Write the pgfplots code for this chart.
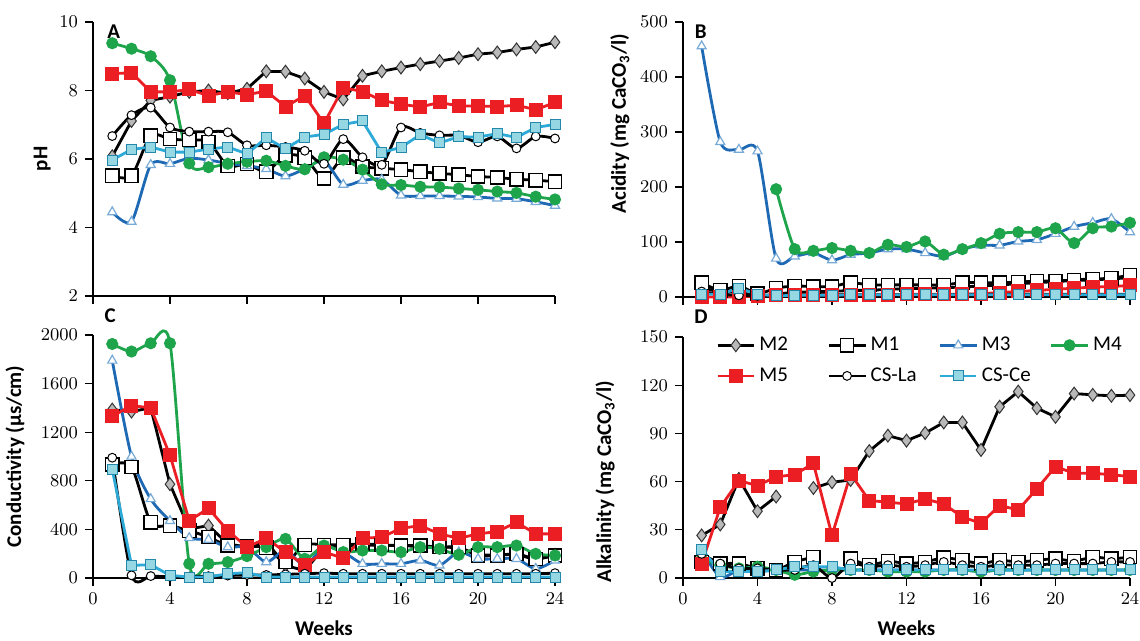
\documentclass[border=0pt]{standalone}
\usepackage{fontspec}
\setsansfont{Carlito}
\usepackage{pgfplots}
\usepackage{pgfplotstable}
\pgfplotsset{compat=1.18}

\definecolor{mthree}{RGB}{30,105,180}
\definecolor{mthreemk}{RGB}{120,170,215}
\definecolor{mfour}{RGB}{30,165,75}
\definecolor{mfive}{RGB}{235,30,35}
\definecolor{csce}{RGB}{45,170,215}
\definecolor{cscemk}{RGB}{150,215,228}

% pH
\pgfplotstableread{
w  M2    M1    M3    M4    M5    CSLa  CSCe
1  6.08  5.51  4.45  9.38  8.49  6.67  5.97
2  7.11  5.51  4.17  9.22  8.52  7.28  6.28
3  7.71  6.68  5.83  9.00  7.96  7.50  6.35
4  7.82  6.58  5.86  8.30  7.96  6.92  6.20
5  7.96  6.55  6.02  5.87  8.03  6.80  6.20
6  8.00  6.50  5.97  5.76  7.85  6.80  6.29
7  7.92  5.80  5.87  5.86  7.96  6.78  6.35
8  8.05  5.85  5.80  5.92  7.88  6.40  6.15
9  8.56  5.63  5.71  5.95  7.98  6.40  6.62
10 8.55  6.10  5.50  5.80  7.53  6.35  6.30
11 8.35  6.04  5.71  5.70  7.85  6.24  6.64
12 7.96  5.43  5.95  6.05  7.04  5.86  6.72
13 7.74  6.04  5.25  5.98  8.08  6.58  7.01
14 8.43  5.78  5.37  5.69  7.97  6.05  7.11
15 8.56  5.73  5.40  5.26  7.71  5.83  6.19
16 8.67  5.69  4.94  5.24  7.60  6.92  6.34
17 8.77  5.63  4.92  5.19  7.52  6.76  6.71
18 8.86  5.58  4.92  5.18  7.65  6.69  6.47
19 8.95  5.54  4.91  5.14  7.55  6.69  6.65
20 9.06  5.49  4.89  5.10  7.55  6.49  6.64
21 9.11  5.46  4.85  5.05  7.53  6.66  6.74
22 9.20  5.41  4.84  5.01  7.57  6.31  6.63
23 9.27  5.38  4.75  4.90  7.44  6.66  6.92
24 9.41  5.34  4.64  4.82  7.65  6.60  7.01
}\dataA

% acidity
\pgfplotstableread{
w  M2  M1  M3   M4   M5  CSLa CSCe
1  18  26  456  nan  0   10   5
2  8   12  282  nan  0   5    5
3  10  20  268  nan  0   3    16
4  0   6   265  nan  2   2    5
5  6   16  70   196  3   3    2
6  8   20  74   87   3   3    3
7  10  19  80   84   4   4    3
8  10  19  67   89   4   4    3
9  12  26  77   84   4   4    4
10 12  22  80   80   4   4    4
11 14  22  87   95   4   4    4
12 15  22  87   91   5   4    4
13 16  22  80   101  5   4    4
14 17  22  74   77   5   4    4
15 18  26  87   87   5   5    4
16 20  26  94   98   6   5    4
17 22  26  94   115  8   5    4
18 24  27  101  118  10  5    4
19 26  29  104  118  12  5    4
20 28  29  115  125  14  5    4
21 30  31  128  98   16  5    4
22 31  33  135  125  18  5    4
23 33  34  142  128  19  5    4
24 35  40  118  135  21  5    4
}\dataB

% conductivity
\pgfplotstableread{
w  M2    M1   M3    M4    M5    CSLa CSCe
1  1386  935  1790  1926  1331  990  895
2  1370  915  1000  1864  1419  22   104
3  1400  458  650   1932  1400  16   109
4  772   431  470   1932  1010  10   22
5  404   390  330   117   472   12   8
6  431   336  316   117   573   15   8
7  281   267  254   131   390   20   35
8  254   260  254   180   254   25   44
9  300   250  131   254   327   25   8
10 104   131  226   322   213   30   8
11 60    273  104   158   104   35   8
12 250   273  254   267   213   40   8
13 260   273  213   213   164   35   8
14 270   281  117   226   327   35   8
15 270   273  117   226   336   35   8
16 265   267  117   213   409   35   8
17 260   267  145   254   431   35   8
18 255   254  104   240   363   35   8
19 250   254  213   191   327   35   8
20 190   186  158   254   363   35   8
21 190   186  158   254   382   35   8
22 195   199  158   267   458   35   8
23 150   158  76    199   363   35   8
24 190   186  145   186   363   40   8
}\dataC

% alkalinity
\pgfplotstableread{
w  M2     M1    M3   M4  M5    CSLa CSCe
1  26.5   10    17   12  8.9   15   18
2  33.3   9     0.6  8   44.0  9    4
3  61.7   9     5    6   60.6  6    4
4  41.6   6     4    7   57.5  6    4
5  50.7   5     5    5   63.0  5    5
6  nan    10    5    2   64.3  5    7
7  56.0   13    5    4   71.4  8    7
8  59.6   nan   5    5   26.5  0    7
9  61.0   12    5    5   64.8  9    5
10 79.0   8     5    5   48.2  7    5
11 88.6   10.5  5    4   47.2  8    5
12 85.5   9     5    4   46.1  7    5
13 90.2   10    5    4   49.2  8    5
14 96.8   12.6  5    5   46.1  10   5
15 96.8   11    5    5   37.9  8    5
16 79.7   9     4    4   34.1  7    5
17 106.6  11    5    5   45.1  8    5
18 116.0  10    5    5   42.4  8    5
19 105.7  11    5    5   55.5  8    5
20 100.3  12    5    5   69.3  9    5
21 114.8  10.5  5    5   65.2  9    5
22 114.0  13    5    5   65.2  9    5
23 113.4  12    5    5   64.3  10   5
24 113.8  13    5    5   63.1  10   5
}\dataD

\pgfplotsset{
  panel/.style={
    scale only axis,
    xmin=0, xmax=24, xtick={0,4,...,24},
    axis x line*=bottom, axis y line*=left,
    tick align=outside, major tick length=4pt,
    tick style={black, line width=0.6pt},
    axis line style={black, line width=0.6pt},
    tick label style={font=\fontsize{9}{10}\selectfont},
    label style={font=\sffamily\bfseries\fontsize{10.5}{12}\selectfont},
    /pgf/number format/1000 sep={},
    clip=false, unbounded coords=jump,
  },
  sM2/.style={black, line width=1.4pt, mark=diamond*, mark size=3.2pt,
    mark options={solid, fill=gray!55, draw=black!80, line width=0.5pt}},
  sM1/.style={black, line width=1.4pt, smooth, tension=0.45, mark=square*, mark size=3.3pt,
    mark options={solid, fill=white, draw=black, line width=0.7pt}},
  sM3/.style={mthree, line width=1.4pt, smooth, tension=0.45, mark=triangle*, mark size=2.6pt,
    mark options={solid, fill=white, draw=mthreemk, line width=0.6pt}},
  sM4/.style={mfour, line width=1.4pt, smooth, tension=0.45, mark=*, mark size=2.3pt,
    mark options={solid, fill=mfour, draw=mfour}},
  sM5/.style={mfive, line width=1.4pt, mark=square*, mark size=2.8pt,
    mark options={solid, fill=mfive, draw=mfive}},
  sLa/.style={black, line width=1.4pt, smooth, tension=0.45, mark=*, mark size=2.2pt,
    mark options={solid, fill=white, draw=black, line width=0.5pt}},
  sCe/.style={csce, line width=1.4pt, mark=square*, mark size=2.5pt,
    mark options={solid, fill=cscemk, draw=csce!80!black, line width=0.5pt}},
}
\tikzset{panelletter/.style={font=\sffamily\bfseries\fontsize{10.5}{12}\selectfont}}

\newcommand{\allseries}[1]{%
  \addplot[sM2] table[x=w,y=M2] {#1};
  \addplot[sM1] table[x=w,y=M1] {#1};
  \addplot[sM3] table[x=w,y=M3] {#1};
  \addplot[sM4] table[x=w,y=M4] {#1};
  \addplot[sM5] table[x=w,y=M5] {#1};
  \addplot[sLa] table[x=w,y=CSLa] {#1};
  \addplot[sCe] table[x=w,y=CSCe] {#1};
}

\begin{document}
\begin{tikzpicture}
\useasboundingbox (0,0) rectangle (570pt,-320.5pt);

% A: pH
\begin{axis}[panel, at={(46.5pt,-148pt)}, anchor=south west,
  width=231pt, height=137pt,
  ymin=2, ymax=10, ytick={2,4,...,10}, xticklabels={},
  ylabel={pH}, ylabel style={at={(axis description cs:-0.11,0.5)}, anchor=center}]
\allseries{\dataA}
\node[panelletter] at (axis description cs:0.045,0.965) {A};
\end{axis}

% B: acidity
\begin{axis}[panel, at={(341.5pt,-148.5pt)}, anchor=south west,
  width=223.5pt, height=137.5pt,
  ymin=0, ymax=500, ytick={0,100,...,500}, xticklabels={},
  ylabel={Acidity (mg CaCO\textsubscript{3}/l)},
  ylabel style={at={(axis description cs:-0.141,0.63)}, anchor=center}]
\allseries{\dataB}
\node[panelletter] at (axis description cs:0.04,0.965) {B};
\end{axis}

% C: conductivity
\begin{axis}[panel, at={(46.5pt,-289pt)}, anchor=south west,
  width=231pt, height=121.5pt,
  ymin=0, ymax=2000, ytick={0,400,...,2000},
  xlabel={Weeks}, xlabel style={at={(axis description cs:0.5,-0.205)}, anchor=center},
  ylabel={Conductivity (µs/cm)},
  ylabel style={at={(axis description cs:-0.169,0.5)}, anchor=center}]
\allseries{\dataC}
\node[panelletter] at (axis description cs:0.037,1.08) {C};
\end{axis}

% D: alkalinity
\begin{axis}[panel, at={(341.5pt,-289pt)}, anchor=south west,
  width=223.5pt, height=120.5pt,
  ymin=0, ymax=150, ytick={0,30,...,150},
  xlabel={Weeks}, xlabel style={at={(axis description cs:0.5,-0.21)}, anchor=center},
  ylabel={Alkalinity (mg CaCO\textsubscript{3}/l)},
  ylabel style={at={(axis description cs:-0.174,0.40)}, anchor=center},
  legend columns=4,
  legend cell align=left,
  legend image code/.code={\draw[mark repeat=2,mark phase=2]
    plot coordinates {(0cm,0cm) (0.32cm,0cm) (0.64cm,0cm)};},
  legend style={at={(axis description cs:0.06,1.035)}, anchor=north west,
    draw=none, fill=none, row sep=3pt,
    font=\sffamily\fontsize{10.5}{12}\selectfont,
    /tikz/every even column/.append style={column sep=4pt}}]
\allseries{\dataD}
\addlegendentry{\makebox[28pt][l]{M2}}
\addlegendentry{\makebox[28pt][l]{M1}}
\addlegendentry{\makebox[28pt][l]{M3}}
\addlegendentry{\makebox[28pt][l]{M4}}
\addlegendentry{\makebox[28pt][l]{M5}}
\addlegendentry{\makebox[28pt][l]{CS-La}}
\addlegendentry{\makebox[28pt][l]{CS-Ce}}
\node[panelletter] at (axis description cs:0.04,1.083) {D};
\end{axis}
\end{tikzpicture}
\end{document}
